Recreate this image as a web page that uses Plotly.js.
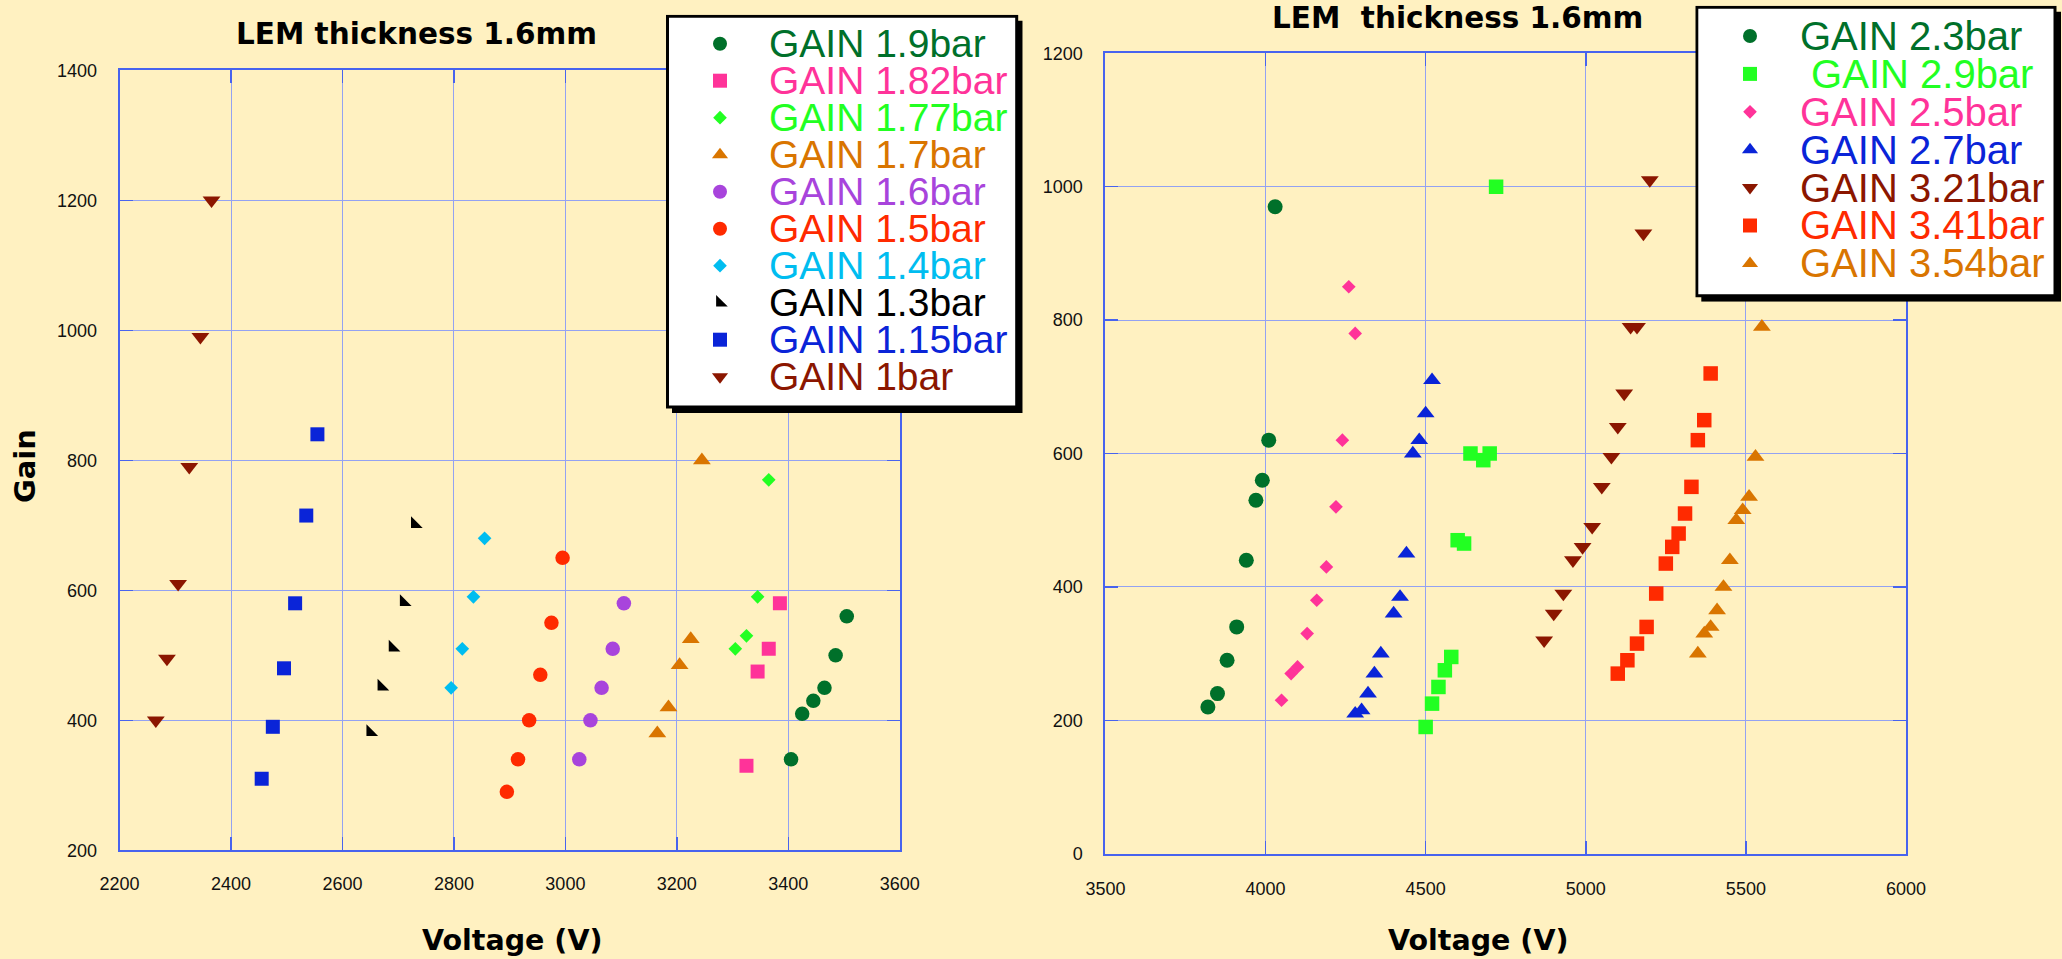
<!DOCTYPE html>
<html>
<head>
<meta charset="utf-8">
<script src="https://cdn.plot.ly/plotly-3.0.1.min.js"></script>
<style>
  html, body { margin: 0; padding: 0; background: #fff1c1; }
  #chart { width: 2062px; height: 959px; }
</style>
</head>
<body>
<div id="chart"></div>
<script>
// ---------- DATA: left panel (LEM thickness 1.6mm, low pressures) ----------
const volt_1_9bar  = [3405, 3425, 3445, 3465, 3485, 3505];
const gain_1_9bar  = [340, 410, 430, 450, 500, 560];
const volt_1_82bar = [3325, 3345, 3365, 3385];
const gain_1_82bar = [330, 475, 510, 580];
const volt_1_77bar = [3305, 3325, 3345, 3365];
const gain_1_77bar = [510, 530, 590, 770];
const volt_1_7bar  = [3165, 3185, 3205, 3225, 3245];
const gain_1_7bar  = [380, 420, 485, 525, 800];
const volt_1_6bar  = [3025, 3045, 3065, 3085, 3105];
const gain_1_6bar  = [340, 400, 450, 510, 580];
const volt_1_5bar  = [2895, 2915, 2935, 2955, 2975, 2995];
const gain_1_5bar  = [290, 340, 400, 470, 550, 650];
const volt_1_4bar  = [2795, 2815, 2835, 2855];
const gain_1_4bar  = [450, 510, 590, 680];
const volt_1_3bar  = [2650, 2670, 2690, 2710, 2730];
const gain_1_3bar  = [382, 452, 512, 582, 702];
const volt_1_15bar = [2455, 2475, 2495, 2515, 2535, 2555];
const gain_1_15bar = [310, 390, 480, 580, 715, 840];
const volt_1bar    = [2265, 2285, 2305, 2325, 2345, 2365];
const gain_1bar    = [400, 495, 610, 790, 990, 1200];

// ---------- DATA: right panel (LEM thickness 1.6mm, high pressures) ----------
const volt_2_3bar  = [3820, 3850, 3880, 3910, 3940, 3970, 3990, 4010, 4030];
const gain_2_3bar  = [220, 240, 290, 340, 440, 530, 560, 620, 970];
const volt_2_9bar  = [4500, 4520, 4540, 4560, 4580, 4600, 4620, 4640, 4680, 4700, 4720];
const gain_2_9bar  = [190, 225, 250, 275, 295, 470, 465, 600, 590, 600, 1000];
const volt_2_5bar  = [4050, 4080, 4100, 4130, 4160, 4190, 4220, 4240, 4260, 4280];
const gain_2_5bar  = [230, 270, 280, 330, 380, 430, 520, 620, 850, 780];
const volt_2_7bar  = [4280, 4300, 4320, 4340, 4360, 4400, 4420, 4440, 4460, 4480, 4500, 4520];
const gain_2_7bar  = [210, 215, 240, 270, 300, 360, 385, 450, 600, 620, 660, 710];
const volt_3_21bar = [4870, 4900, 4930, 4960, 4990, 5020, 5050, 5080, 5100, 5120, 5140, 5160, 5180, 5200];
const gain_3_21bar = [320, 360, 390, 440, 460, 490, 550, 595, 640, 690, 790, 790, 930, 1010];
const volt_3_41bar = [5100, 5130, 5160, 5190, 5220, 5250, 5270, 5290, 5310, 5330, 5350, 5370, 5390];
const gain_3_41bar = [270, 290, 315, 340, 390, 435, 460, 480, 510, 550, 620, 650, 720];
const volt_3_54bar = [5350, 5370, 5390, 5410, 5430, 5450, 5470, 5490, 5510, 5530, 5550];
const gain_3_54bar = [300, 330, 340, 365, 400, 440, 500, 515, 535, 595, 790];

// ---------- labels ----------
const leftLabels  = ['GAIN 1.9bar', 'GAIN 1.82bar', 'GAIN 1.77bar', 'GAIN 1.7bar', 'GAIN 1.6bar',
                     'GAIN 1.5bar', 'GAIN 1.4bar', 'GAIN 1.3bar', 'GAIN 1.15bar', 'GAIN 1bar'];
const rightLabels = ['GAIN 2.3bar', '\u00a0GAIN 2.9bar', 'GAIN 2.5bar', 'GAIN 2.7bar',
                     'GAIN 3.21bar', 'GAIN 3.41bar', 'GAIN 3.54bar'];
const titleLeft  = 'LEM thickness 1.6mm';
const titleRight = 'LEM\u00a0 thickness 1.6mm';
const xTitle = 'Voltage (V)';
const yTitle = 'Gain';

// ---------- styles ----------
const C = {
  dkgreen: '#00702a', pink: '#ff3399', lime: '#22ff22', orange: '#d97500',
  purple: '#a844dc', red: '#ff2a00', cyan: '#00bdf0', black: '#000000',
  blue: '#0a24d8', dkred: '#8b1600'
};
const leftSeries = [
  {x: volt_1_9bar,  y: gain_1_9bar,  sym: 'circle',        size: 14.5, color: C.dkgreen},
  {x: volt_1_82bar, y: gain_1_82bar, sym: 'square',        size: 14,   color: C.pink},
  {x: volt_1_77bar, y: gain_1_77bar, sym: 'diamond',       size: 10.5, color: C.lime},
  {x: volt_1_7bar,  y: gain_1_7bar,  sym: 'triangle-up',   size: 15.5, color: C.orange},
  {x: volt_1_6bar,  y: gain_1_6bar,  sym: 'circle',        size: 14.5, color: C.purple},
  {x: volt_1_5bar,  y: gain_1_5bar,  sym: 'circle',        size: 14.5, color: C.red},
  {x: volt_1_4bar,  y: gain_1_4bar,  sym: 'diamond',       size: 10.5, color: C.cyan},
  {x: volt_1_3bar,  y: gain_1_3bar,  sym: 'triangle-sw',   size: 13,   color: C.black},
  {x: volt_1_15bar, y: gain_1_15bar, sym: 'square',        size: 14,   color: C.blue},
  {x: volt_1bar,    y: gain_1bar,    sym: 'triangle-down', size: 15.5, color: C.dkred}
];
const rightSeries = [
  {x: volt_2_3bar,  y: gain_2_3bar,  sym: 'circle',        size: 15,   color: C.dkgreen},
  {x: volt_2_9bar,  y: gain_2_9bar,  sym: 'square',        size: 14.5, color: C.lime},
  {x: volt_2_5bar,  y: gain_2_5bar,  sym: 'diamond',       size: 10.5, color: C.pink},
  {x: volt_2_7bar,  y: gain_2_7bar,  sym: 'triangle-up',   size: 15.5, color: C.blue},
  {x: volt_3_21bar, y: gain_3_21bar, sym: 'triangle-down', size: 15.5, color: C.dkred},
  {x: volt_3_41bar, y: gain_3_41bar, sym: 'square',        size: 14.5, color: C.red},
  {x: volt_3_54bar, y: gain_3_54bar, sym: 'triangle-up',   size: 15.5, color: C.orange}
];

// ---------- geometry (pixels of the 2062x959 canvas) ----------
const W = 2062, H = 959;
const px = v => v / W;
const py = v => 1 - v / H;

const traces = [];
leftSeries.forEach((s, i) => traces.push({
  type: 'scatter', mode: 'markers', x: s.x, y: s.y, xaxis: 'x', yaxis: 'y',
  name: leftLabels[i], showlegend: false, hoverinfo: 'x+y+name',
  marker: {symbol: s.sym, size: s.size, color: s.color, line: {width: 0}}
}));
rightSeries.forEach((s, i) => traces.push({
  type: 'scatter', mode: 'markers', x: s.x, y: s.y, xaxis: 'x2', yaxis: 'y2',
  name: rightLabels[i], showlegend: false, hoverinfo: 'x+y+name',
  marker: {symbol: s.sym, size: s.size, color: s.color, line: {width: 0}}
}));

// ---------- hand-made legends (overlay axes measured in pixels) ----------
const L1 = {x0: 666, y0: 14.7, w: 350.7, h: 392.3, first: 29, step: 37, mx: 54, tx: 100.7, fs: 39};
const L2 = {x0: 1695.3, y0: 5.7, w: 359.7, h: 290, first: 30.3, step: 37.9, mx: 54.7, tx: 103, fs: 40};
const SH = 6; // shadow offset

function legendAxes(L) {
  return {
    x: {domain: [px(L.x0), px(L.x0 + L.w + SH)], range: [0, L.w + SH], visible: false, fixedrange: true},
    y: {domain: [py(L.y0 + L.h + SH), py(L.y0)], range: [L.h + SH, 0], visible: false, fixedrange: true}
  };
}
const la1 = legendAxes(L1), la2 = legendAxes(L2);

const shapes = [];
const annotations = [];
function buildLegend(L, series, labels, xa, ya) {
  shapes.push({type: 'rect', xref: xa, yref: ya, layer: 'below', x0: SH, y0: SH, x1: L.w + SH, y1: L.h + SH,
               fillcolor: '#000', line: {width: 0}});
  shapes.push({type: 'rect', xref: xa, yref: ya, layer: 'below', x0: 1.5, y0: 1.5, x1: L.w, y1: L.h,
               fillcolor: '#fff', line: {color: '#000', width: 3}});
  series.forEach((s, i) => {
    const yy = L.first + L.step * i;
    traces.push({
      type: 'scatter', mode: 'markers', x: [L.mx], y: [yy], xaxis: xa, yaxis: ya,
      showlegend: false, hoverinfo: 'skip', cliponaxis: false,
      marker: {symbol: s.sym, size: Math.min(s.size, 14), color: s.color, line: {width: 0}}
    });
    annotations.push({
      xref: xa, yref: ya, x: L.tx, y: yy, xanchor: 'left', yanchor: 'middle', showarrow: false,
      text: labels[i], font: {family: 'Liberation Sans, Arial, sans-serif', size: L.fs, color: s.color}
    });
  });
}
buildLegend(L1, leftSeries, leftLabels, 'x3', 'y3');
buildLegend(L2, rightSeries, rightLabels, 'x4', 'y4');

// ---------- titles ----------
const boldFont = (sz) => ({family: 'DejaVu Sans, Arial, sans-serif', size: sz, color: '#000', weight: 'bold'});
annotations.push(
  {xref: 'paper', yref: 'paper', x: px(416.5), y: py(33.5), text: '<b>' + titleLeft + '</b>', showarrow: false,
   xanchor: 'center', yanchor: 'middle', font: boldFont(29.5)},
  {xref: 'paper', yref: 'paper', x: px(1457), y: py(18), text: '<b>' + titleRight + '</b>', showarrow: false,
   xanchor: 'center', yanchor: 'middle', font: boldFont(29.5)},
  {xref: 'paper', yref: 'paper', x: px(24.5), y: py(466.5), text: '<b>' + yTitle + '</b>', showarrow: false,
   textangle: -90, xanchor: 'center', yanchor: 'middle', font: boldFont(29)},
  {xref: 'paper', yref: 'paper', x: px(511.5), y: py(940), text: '<b>' + xTitle + '</b>', showarrow: false,
   xanchor: 'center', yanchor: 'middle', font: boldFont(28.5)},
  {xref: 'paper', yref: 'paper', x: px(1478), y: py(940), text: '<b>' + xTitle + '</b>', showarrow: false,
   xanchor: 'center', yanchor: 'middle', font: boldFont(28.5)}
);

// ---------- axes ----------
const tickFont = {family: 'Liberation Sans, Arial, sans-serif', size: 18, color: '#111'};
const axisBase = {
  showline: true, linecolor: '#4763ee', linewidth: 2, mirror: 'ticks',
  ticks: 'inside', ticklen: 13, tickwidth: 1.5, tickcolor: '#4763ee',
  showgrid: true, gridcolor: '#93a2f2', gridwidth: 1, zeroline: false,
  tickfont: tickFont, fixedrange: true
};

const layout = {
  width: W, height: H,
  paper_bgcolor: '#fff1c1', plot_bgcolor: 'rgba(0,0,0,0)',
  margin: {l: 0, r: 0, t: 0, b: 0},
  showlegend: false,
  xaxis:  Object.assign({}, axisBase, {domain: [px(119.6), px(899.7)], range: [2200, 3600], dtick: 200, tick0: 2200,
                                       anchor: 'y', ticklabelstandoff: 16}),
  yaxis:  Object.assign({}, axisBase, {domain: [py(850.3), py(70.3)], range: [200, 1400], dtick: 200, tick0: 200,
                                       anchor: 'x', ticklabelstandoff: 17}),
  xaxis2: Object.assign({}, axisBase, {domain: [px(1105.4), px(1906)], range: [3500, 6000], dtick: 500, tick0: 3500,
                                       anchor: 'y2', ticklabelstandoff: 18}),
  yaxis2: Object.assign({}, axisBase, {domain: [py(853.7), py(53.3)], range: [0, 1200], dtick: 200, tick0: 0,
                                       anchor: 'x2', ticklabelstandoff: 17}),
  xaxis3: Object.assign({}, la1.x, {anchor: 'y3'}),
  yaxis3: Object.assign({}, la1.y, {anchor: 'x3'}),
  xaxis4: Object.assign({}, la2.x, {anchor: 'y4'}),
  yaxis4: Object.assign({}, la2.y, {anchor: 'x4'}),
  shapes: shapes,
  annotations: annotations
};

Plotly.newPlot('chart', traces, layout, {displayModeBar: false, staticPlot: true});
</script>
</body>
</html>
